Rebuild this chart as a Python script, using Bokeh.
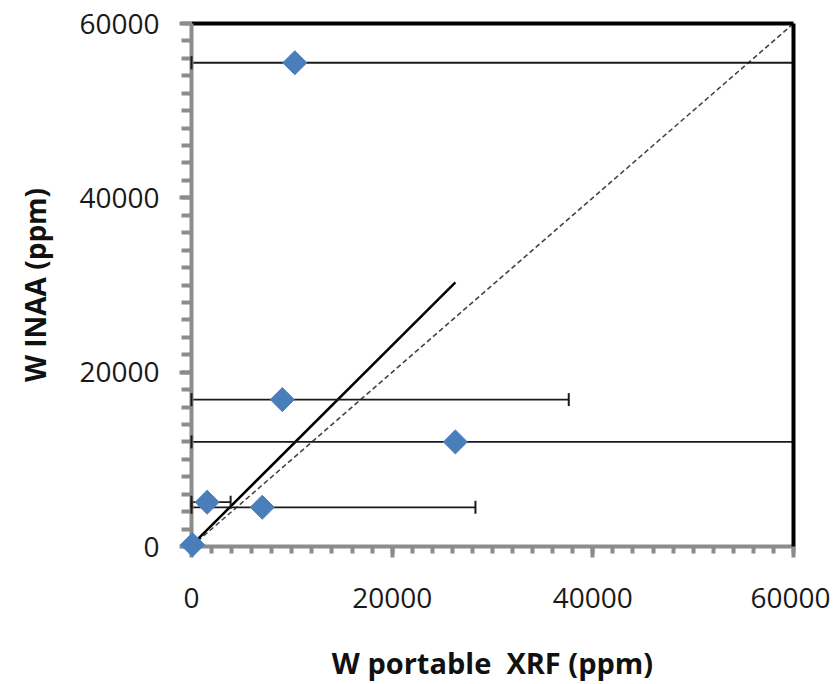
import numpy as np
from bokeh.plotting import figure
from bokeh.models import LinearAxis, Range1d, FixedTicker
from bokeh.embed import file_html
from bokeh.resources import INLINE

# data
xrf = [100, 1560, 7050, 9050, 10300, 26300]          # W portable XRF (ppm)
inaa = [200, 5080, 4500, 16850, 55500, 12000]        # W INAA (ppm)
xrf_low = [0, 0, 0, 0, 0, 0]                          # lower end of XRF error bar
xrf_high = [300, 3900, 28300, 37600, 70000, 64000]    # upper end of XRF error bar
trend_slope = 1.148
trend_intercept = 120
one_to_one = [0, 60000]
x_ticks = [0, 20000, 40000, 60000]
y_ticks = [0, 20000, 40000, 60000]
minor_step = 2000
x_title = "W portable\u00a0 XRF (ppm)"
y_title = "W INAA (ppm)"

FONT = "Open Sans"
AXIS_GRAY = "#8c8c8c"

p = figure(width=830, height=684, output_backend="svg", toolbar_location=None,
           x_range=Range1d(0, 60000), y_range=Range1d(0, 60000),
           min_border_left=191, min_border_right=37, min_border_top=23,
           min_border_bottom=138)
p.grid.visible = False
p.outline_line_color = None
p.background_fill_color = "white"

minor = list(range(0, 60001, minor_step))
for ax, ticks in ((p.xaxis[0], x_ticks), (p.yaxis[0], y_ticks)):
    ax.ticker = FixedTicker(ticks=ticks, minor_ticks=minor)
    ax.axis_line_color = AXIS_GRAY
    ax.axis_line_width = 4
    ax.major_tick_line_color = AXIS_GRAY
    ax.minor_tick_line_color = AXIS_GRAY
    ax.major_tick_line_width = 4
    ax.minor_tick_line_width = 4
    ax.major_tick_in = 0
    ax.minor_tick_in = 0
    ax.major_label_text_font = FONT
    ax.major_label_text_font_size = "28px"
    ax.major_label_text_color = "#1a1a1a"
    ax.axis_label_text_font = FONT
    ax.axis_label_text_font_style = "bold"
    ax.axis_label_text_color = "#111111"

p.xaxis[0].major_tick_out = 11
p.xaxis[0].minor_tick_out = 7
p.yaxis[0].major_tick_out = 12
p.yaxis[0].minor_tick_out = 10
p.xaxis[0].major_label_standoff = 30
p.yaxis[0].major_label_standoff = 20
p.xaxis[0].axis_label = x_title
p.yaxis[0].axis_label = y_title
p.xaxis[0].axis_label_text_font_size = "29px"
p.yaxis[0].axis_label_text_font_size = "28px"
p.xaxis[0].axis_label_standoff = 32
p.yaxis[0].axis_label_standoff = 22

# thick black top and right borders
for side in ("above", "right"):
    a = LinearAxis(axis_line_color="black", axis_line_width=4,
                   ticker=FixedTicker(ticks=[]),
                   major_tick_line_color=None, minor_tick_line_color=None)
    p.add_layout(a, side)

# 1:1 dashed line
p.line(one_to_one, one_to_one, line_color="#444444", line_width=1.6, line_dash="5 3")

# trend line over the data range
tx = np.array([min(xrf), max(xrf)], dtype=float)
p.line(tx, trend_slope * tx + trend_intercept, line_color="black", line_width=2.5)

# error bars
p.segment(x0=xrf_low, y0=inaa, x1=xrf_high, y1=inaa, line_color="#1a1a1a", line_width=1.8)
p.scatter(x=xrf_low, y=inaa, marker="dash", angle=np.pi / 2, size=13,
          line_color="#1a1a1a", line_width=2, level="overlay")
p.scatter(x=xrf_high, y=inaa, marker="dash", angle=np.pi / 2, size=13,
          line_color="#1a1a1a", line_width=2)

# points
p.scatter(x=xrf, y=inaa, marker="square", angle=np.pi / 4, size=17,
          fill_color="#4a7ebb", line_color="#4a7ebb", line_width=1, level="overlay")

open("out.html", "w").write(file_html(p, INLINE))
